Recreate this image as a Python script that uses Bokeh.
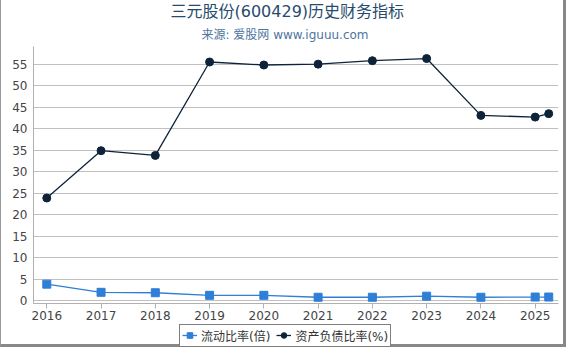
from bokeh.plotting import figure
from bokeh.layouts import column
from bokeh.models import Range1d, FixedTicker, Title, Legend, LegendItem
from bokeh.embed import file_html
from bokeh.resources import INLINE

# data
x_years = [2016, 2017, 2018, 2019, 2020, 2021, 2022, 2023, 2024, 2025, 2025.25]
current_ratio = [3.9, 2.0, 1.9, 1.3, 1.3, 0.85, 0.85, 1.1, 0.85, 0.9, 0.9]
debt_ratio = [23.9, 34.9, 33.8, 55.5, 54.8, 55.0, 55.8, 56.3, 43.1, 42.7, 43.5]
year_ticks = [2016, 2017, 2018, 2019, 2020, 2021, 2022, 2023, 2024, 2025]
y_ticks = [0, 5, 10, 15, 20, 25, 30, 35, 40, 45, 50, 55]
title_text = "三元股份(600429)历史财务指标"
subtitle_text = "来源: 爱股网 www.iguuu.com"
series_names = ["流动比率(倍)", "资产负债比率(%)"]

FONT = "DejaVu Sans, Noto Sans CJK SC"
BLUE = "#2f7ed8"
NAVY = "#0d233a"

p = figure(width=566, height=324, output_backend="svg", toolbar_location=None,
           x_range=Range1d(2015.755, 2025.43), y_range=Range1d(-0.6, 59.1),
           min_border_left=32, min_border_right=9, min_border_top=0, min_border_bottom=21)
p.styles = {"border-left": "1px solid #999999", "border-right": "3px solid #888888"}
p.outline_line_color = None
p.background_fill_color = "white"
p.border_fill_color = "white"

p.xgrid.grid_line_color = None
p.ygrid.grid_line_color = "#c0c0c0"
p.ygrid.grid_line_width = 1

p.xaxis.ticker = FixedTicker(ticks=year_ticks)
p.yaxis.ticker = FixedTicker(ticks=y_ticks)
for ax in (p.xaxis, p.yaxis):
    ax.axis_line_color = "#b0b0b0"
    ax.major_tick_line_color = "#b0b0b0"
    ax.minor_tick_line_color = None
    ax.major_label_text_font = FONT
    ax.major_label_text_font_size = "12px"
    ax.major_label_text_color = "#444444"
p.xaxis.major_tick_in = 0
p.xaxis.major_tick_out = 5
p.xaxis.major_label_standoff = 2
p.yaxis.major_tick_in = 0
p.yaxis.major_tick_out = 0
p.yaxis.major_label_standoff = 6

p.line(x_years, current_ratio, line_color=BLUE, line_width=1.3)
p.scatter(x_years, current_ratio, marker="square", size=8, fill_color=BLUE, line_color=BLUE)
p.line(x_years, debt_ratio, line_color=NAVY, line_width=1.3)
p.scatter(x_years, debt_ratio, marker="circle", size=8, fill_color=NAVY, line_color=NAVY)

p.add_layout(Title(text=subtitle_text, align="left", offset=168, standoff=9.5,
                   text_font=FONT, text_font_size="12px", text_color="#4d759e",
                   text_font_style="normal"), "above")
p.add_layout(Title(text=title_text, align="left", offset=137, standoff=-1.5,
                   text_font=FONT, text_font_size="16px", text_color="#274b6d",
                   text_font_style="normal"), "above")

# legend strip (separate small figure holding only the legend; its ranges hide the data)
q = figure(width=566, height=23, output_backend="svg", toolbar_location=None,
           x_range=Range1d(0, 1), y_range=Range1d(-100, -99),
           x_axis_location=None, y_axis_location=None,
           min_border_left=0, min_border_right=0, min_border_top=0, min_border_bottom=0)
q.styles = {"border-left": "1px solid #999999", "border-right": "3px solid #888888",
            "border-bottom": "3px solid #888888"}
q.grid.visible = False
q.outline_line_color = None
q.border_fill_color = "white"
q.background_fill_color = "white"
ql1 = q.line(x_years, current_ratio, line_color=BLUE, line_width=1.3)
qm1 = q.scatter(x_years, current_ratio, marker="square", size=8, fill_color=BLUE, line_color=BLUE)
ql2 = q.line(x_years, debt_ratio, line_color=NAVY, line_width=1.3)
qm2 = q.scatter(x_years, debt_ratio, marker="circle", size=8, fill_color=NAVY, line_color=NAVY)
legend = Legend(items=[LegendItem(label=series_names[0], renderers=[ql1, qm1]),
                       LegendItem(label=series_names[1], renderers=[ql2, qm2])],
                orientation="horizontal", location=(146, 0.5), margin=0,
                padding=2, spacing=6, label_standoff=4, glyph_width=15, glyph_height=14,
                border_line_color="black", border_line_width=1,
                label_text_font=FONT, label_text_font_size="12px", label_text_color="#333333",
                background_fill_alpha=1)
q.add_layout(legend, "center")

layout = column(p, q, spacing=0)
open("out.html", "w").write(file_html(layout, INLINE))
